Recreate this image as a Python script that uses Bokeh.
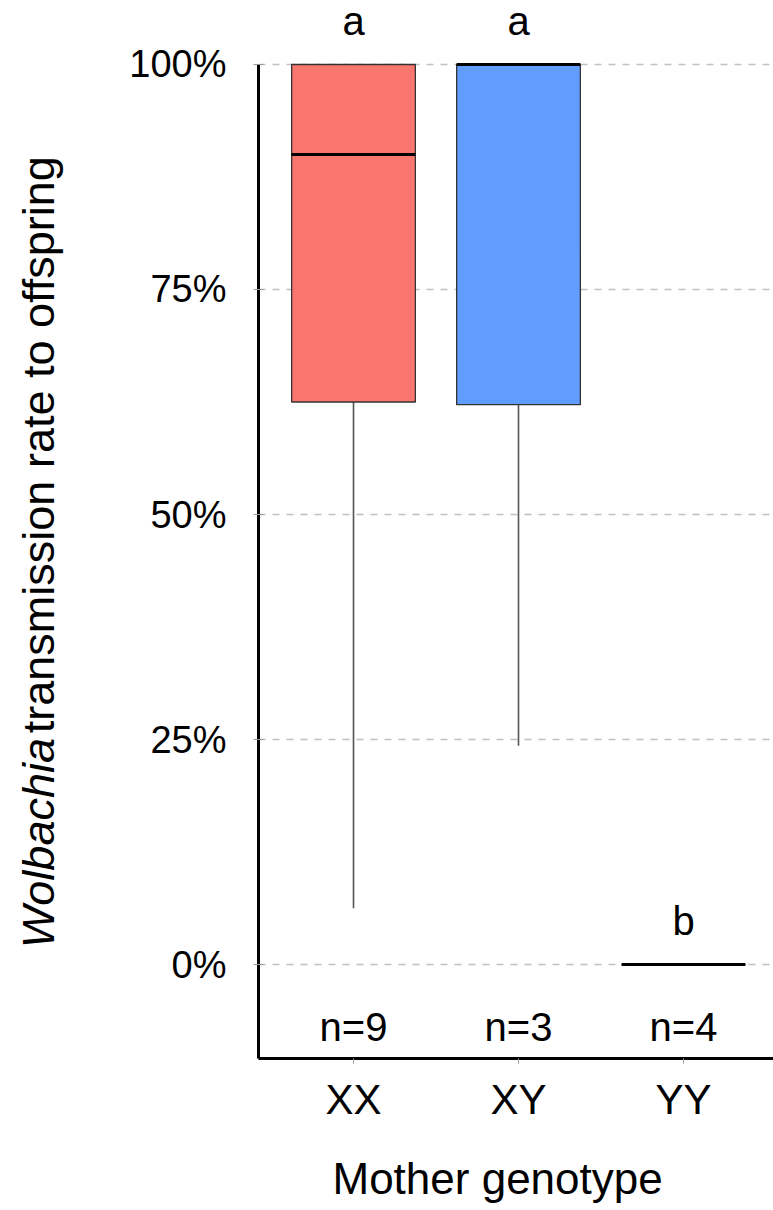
import math
from bokeh.plotting import figure
from bokeh.layouts import row
from bokeh.models import Range1d, FixedTicker, NumeralTickFormatter, Label, ColumnDataSource, Title
from bokeh.core.properties import value
from bokeh.embed import file_html
from bokeh.resources import INLINE

# ---- data ----
genotypes = ["XX", "XY", "YY"]
lower_whisker = [0.0625, 0.243, 0.0]
q1 = [0.625, 0.622, 0.0]
median = [0.90, 1.0, 0.0]
q3 = [1.0, 1.0, 0.0]
upper_whisker = [1.0, 1.0, 0.0]
n_counts = [9, 3, 4]
letters = ["a", "a", "b"]
box_colors = ["#F8766D", "#619CFF", "#00BA38"]
y_ticks = [0.0, 0.25, 0.5, 0.75, 1.0]

FONT = "Liberation Sans"
xpos = [i + 1 for i in range(len(genotypes))]
box_w = 0.75

src = ColumnDataSource(dict(
    x=xpos, lo=lower_whisker, q1=q1, med=median, q3=q3, hi=upper_whisker,
    color=box_colors,
    left=[x - box_w / 2 for x in xpos], right=[x + box_w / 2 for x in xpos],
    ntxt=["n=%d" % n for n in n_counts], letter=letters,
    letter_y=[u + 0.048 for u in upper_whisker],
    n_y=[-0.069] * len(xpos),
))

TW = 84  # width of the strip holding the y-axis title

yr = Range1d(-0.1044, 1.0622)
p = figure(
    frame_width=515, frame_height=1050,
    x_range=Range1d(0.4242, 0.4242 + 515 / 165.0),
    y_range=yr,
    output_backend="svg", toolbar_location=None,
    min_border_left=258 - TW, min_border_right=0, min_border_top=8, min_border_bottom=152,
    background_fill_color="white", border_fill_color="white",
)
p.outline_line_color = None

# grid
p.xgrid.grid_line_color = None
p.ygrid.ticker = FixedTicker(ticks=y_ticks)
p.ygrid.grid_line_color = "#c0c0c0"
p.ygrid.grid_line_width = 1.5
p.ygrid.grid_line_dash = "7 7"

# axes
p.yaxis.ticker = FixedTicker(ticks=y_ticks)
p.yaxis.formatter = NumeralTickFormatter(format="0%")
p.yaxis.bounds = (-0.1044, 1.0)
p.yaxis.axis_line_width = 3
p.yaxis.axis_line_color = "black"
p.yaxis.major_tick_out = 5
p.yaxis.major_tick_in = 5
p.yaxis.major_tick_line_color = "#999999"
p.yaxis.minor_tick_line_color = None
p.yaxis.major_label_text_font = FONT
p.yaxis.major_label_text_font_size = "38px"
p.yaxis.major_label_text_color = "black"
p.yaxis.major_label_standoff = 27

p.xaxis.ticker = FixedTicker(ticks=xpos)
p.xaxis.major_label_overrides = {x: g for x, g in zip(xpos, genotypes)}
p.xaxis.axis_line_width = 3
p.xaxis.axis_line_color = "black"
p.xaxis.major_tick_out = 5
p.xaxis.major_tick_in = 0
p.xaxis.major_tick_line_color = "#999999"
p.xaxis.minor_tick_line_color = None
p.xaxis.major_label_text_font = FONT
p.xaxis.major_label_text_font_size = "42px"
p.xaxis.major_label_text_color = "black"
p.xaxis.major_label_standoff = 12

# whiskers
p.segment(x0="x", y0="q1", x1="x", y1="lo", source=src, line_color="#555555", line_width=1.6)
p.segment(x0="x", y0="q3", x1="x", y1="hi", source=src, line_color="#555555", line_width=1.6)
# boxes
p.vbar(x="x", width=box_w, bottom="q1", top="q3", source=src,
       fill_color="color", line_color="#333333", line_width=1.3)
# medians
p.segment(x0="left", y0="med", x1="right", y1="med", source=src,
          line_color="black", line_width=3)

# letters and n labels
p.text(x="x", y="letter_y", text="letter", source=src, text_align="center",
       text_baseline="alphabetic", text_font=value(FONT), text_font_size="40px", text_color="black")
p.text(x="x", y="n_y", text="ntxt", source=src, text_align="center",
       text_baseline="alphabetic", text_font=value(FONT), text_font_size="40px", text_color="black")

# x-axis title
p.add_layout(Title(text="Mother genotype", align="left", offset=74, standoff=52,
                   text_font=FONT, text_font_size="44px", text_font_style="normal",
                   text_color="black"), "below")

# left strip with the y-axis title (mixed italic / roman); shares the y range
t = figure(width=TW, height=1210, x_range=Range1d(0, TW), y_range=yr,
           x_axis_type=None, y_axis_type=None, output_backend="svg", toolbar_location=None,
           min_border=0, background_fill_color="white", border_fill_color="white")
t.outline_line_color = None
t.grid.visible = False
YT = "45px"
t.add_layout(Label(x=38, y=0.0, text="Wolbachia", angle=math.pi / 2, text_align="left",
                   text_baseline="middle", text_font=FONT, text_font_size=YT,
                   text_font_style="italic", text_color="black"))
t.add_layout(Label(x=38, y=0.243, text="transmission rate to offspring", angle=math.pi / 2,
                   text_align="left", text_baseline="middle", text_font=FONT,
                   text_font_size=YT, text_color="black"))

layout = row(t, p, spacing=0)
open("out.html", "w").write(file_html(layout, INLINE))
